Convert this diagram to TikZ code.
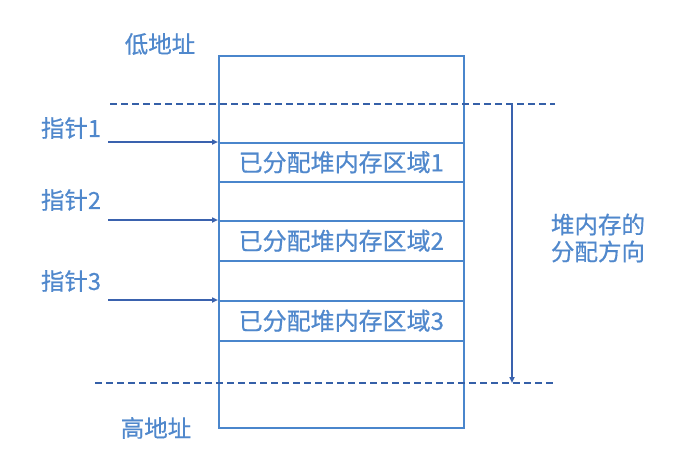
\documentclass[tikz,border=0pt]{standalone}
\usepackage{fontspec}
\setmainfont[FakeBold=0.6]{Noto Sans CJK SC}
\usetikzlibrary{arrows.meta}
\definecolor{boxblue}{HTML}{4A86CC}
\definecolor{txtblue}{HTML}{5088CC}
\definecolor{arrblue}{HTML}{3A62AE}
\definecolor{dashblue}{HTML}{3560A8}
\tikzset{
  cell/.style={draw=boxblue, line width=1.6pt, minimum width=245pt, inner sep=0pt, anchor=north west, text=txtblue, font=\fontsize{24}{26}\selectfont},
  lbl/.style={text=txtblue, font=\fontsize{23.5}{26}\selectfont, inner sep=0pt},
  ptr/.style={draw=arrblue, line width=1.6pt, -{Triangle[length=6pt,width=5pt]}},
  dline/.style={draw=dashblue, line width=1.6pt, dash pattern=on 7pt off 4pt}
}
\begin{document}
\begin{tikzpicture}[x=1pt,y=-1pt]
\useasboundingbox (0,0) rectangle (680,471);
% cells
\node[cell, minimum height=87pt] (c0) at (218,55) {};
\node[cell, minimum height=39pt] (c1) at (218,142) {已分配堆内存区域1};
\node[cell, minimum height=39pt] (c2) at (218,181) {};
\node[cell, minimum height=40pt] (c3) at (218,220) {已分配堆内存区域2};
\node[cell, minimum height=40pt] (c4) at (218,260) {};
\node[cell, minimum height=40pt] (c5) at (218,300) {已分配堆内存区域3};
\node[cell, minimum height=87pt] (c6) at (218,340) {};
% labels
\node[lbl] (low) at (160,44) {低地址};
\node[lbl] (high) at (156,428) {高地址};
\node[lbl] (p1) at (71,128) {指针1};
\node[lbl] (p2) at (71,200) {指针2};
\node[lbl] (p3) at (71,281) {指针3};
\node[lbl, align=left, font=\fontsize{23.5}{27}\selectfont] (dir) at (598,238) {堆内存的\\分配方向};
% pointer arrows
\coordinate (a1) at (108,142);
\coordinate (a2) at (108,220);
\coordinate (a3) at (108,300);
\draw[ptr] (a1) -- (c1.north west);
\draw[ptr] (a2) -- (c3.north west);
\draw[ptr] (a3) -- (c5.north west);
% dashed lines
\coordinate (d1l) at (110,104);
\coordinate (d1r) at (555,104);
\coordinate (d2l) at (95,383);
\coordinate (d2r) at (555,383);
\draw[dline] (d1l) -- (d1r);
\draw[dline] (d2l) -- (d2r);
% direction arrow
\coordinate (v1) at (512,104);
\coordinate (v2) at (512,383);
\draw[ptr] (v1) -- (v2);
\end{tikzpicture}
\end{document}
